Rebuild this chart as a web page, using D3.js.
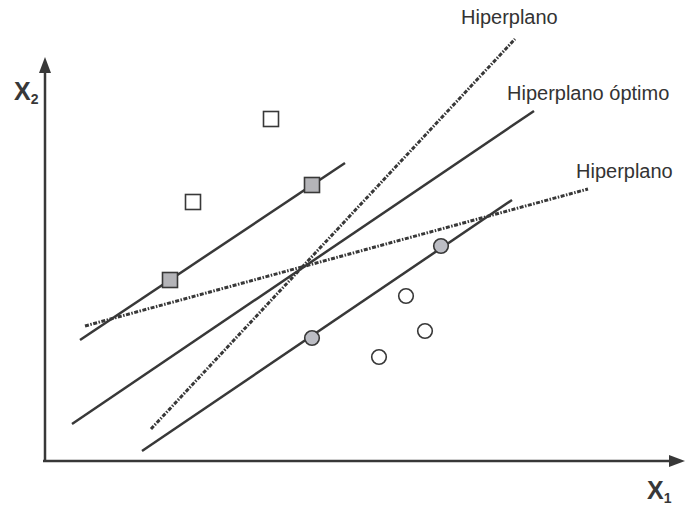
<!DOCTYPE html>
<html>
<head>
<meta charset="utf-8">
<script src="https://cdn.jsdelivr.net/npm/d3@7"></script>
<style>
  body { margin: 0; background: #fff; }
  svg { display: block; }
</style>
</head>
<body>
<svg></svg>
<script>
var width = 688
var height = 509

// hyperplanes: [x1, y1, x2, y2] in chart units
var lineNames = ["margen superior", "optimo", "margen inferior", "hiperplano 1", "hiperplano 2"]
var lineCoords = [
  [35, 121, 300, 298],
  [27, 37, 489, 350],
  [97, 10, 467, 261],
  [106, 32, 470, 422],
  [40, 135, 543, 272]
]
var lineDashed = [false, false, false, true, true]

// class A (squares)
var squaresX = [226, 148, 125, 267]
var squaresY = [342, 259, 181, 276]
var squaresSupport = [false, false, true, true]

// class B (circles)
var circlesX = [361, 380, 334, 267, 396]
var circlesY = [165, 130, 104, 123, 215]
var circlesSupport = [false, false, false, true, true]

var labelText = ["Hiperplano", "Hiperplano óptimo", "Hiperplano"]
var labelX = [416, 462, 531]
var labelY = [437, 361, 283]

var x = d3.scaleLinear().domain([0, 640]).range([45, 685])
var y = d3.scaleLinear().domain([0, 404]).range([461, 57])

var ink = "#383838"

var svg = d3.select("svg")
    .attr("width", width)
    .attr("height", height)

var defs = svg.append("defs")
defs.append("marker")
    .attr("id", "arrow")
    .attr("markerUnits", "userSpaceOnUse")
    .attr("markerWidth", 16)
    .attr("markerHeight", 14)
    .attr("viewBox", "0 -7 16 14")
    .attr("refX", 2)
    .attr("refY", 0)
    .attr("orient", "auto")
  .append("path")
    .attr("d", "M0,-6L16,0L0,6Z")
    .attr("fill", ink)

// axes (no ticks)
svg.append("line")
    .attr("x1", x(-2)).attr("y1", y(0))
    .attr("x2", x(626)).attr("y2", y(0))
    .attr("stroke", ink).attr("stroke-width", 2.5)
    .attr("marker-end", "url(#arrow)")
svg.append("line")
    .attr("x1", x(0)).attr("y1", y(-1))
    .attr("x2", x(0)).attr("y2", y(390))
    .attr("stroke", ink).attr("stroke-width", 2.5)
    .attr("marker-end", "url(#arrow)")

// axis titles
var t2 = svg.append("text")
    .attr("x", 14).attr("y", 100)
    .style("font-family", "Arial, 'Liberation Sans', sans-serif")
    .style("font-weight", "bold")
    .style("font-size", "25px")
    .attr("fill", ink)
t2.append("tspan").text("X")
t2.append("tspan").attr("dy", 4).style("font-size", "14px").text("2")

var t1 = svg.append("text")
    .attr("x", 647).attr("y", 499)
    .style("font-family", "Arial, 'Liberation Sans', sans-serif")
    .style("font-weight", "bold")
    .style("font-size", "25px")
    .attr("fill", ink)
t1.append("tspan").text("X")
t1.append("tspan").attr("dy", 4).style("font-size", "14px").text("1")

// lines
svg.append("g")
    .selectAll("line")
    .data(lineCoords)
    .enter().append("line")
    .attr("x1", d => x(d[0]))
    .attr("y1", d => y(d[1]))
    .attr("x2", d => x(d[2]))
    .attr("y2", d => y(d[3]))
    .attr("stroke", ink)
    .attr("stroke-width", (d, i) => lineDashed[i] ? 3 : 2.5)
    .attr("stroke-dasharray", (d, i) => lineDashed[i] ? "4,1.5,1.5,1.5" : null)

// squares
var sq = 15
svg.append("g")
    .selectAll("rect")
    .data(squaresX)
    .enter().append("rect")
    .attr("x", (d, i) => x(d) - sq / 2)
    .attr("y", (d, i) => y(squaresY[i]) - sq / 2)
    .attr("width", sq)
    .attr("height", sq)
    .attr("fill", (d, i) => squaresSupport[i] ? "#b4b4b8" : "#fff")
    .attr("stroke", ink)
    .attr("stroke-width", 1.6)

// circles
svg.append("g")
    .selectAll("circle")
    .data(circlesX)
    .enter().append("circle")
    .attr("cx", d => x(d))
    .attr("cy", (d, i) => y(circlesY[i]))
    .attr("r", 7.3)
    .attr("fill", (d, i) => circlesSupport[i] ? "#bcbdc4" : "#fff")
    .attr("stroke", ink)
    .attr("stroke-width", 1.6)

// labels
svg.append("g")
    .selectAll("text")
    .data(labelText)
    .enter().append("text")
    .attr("x", (d, i) => x(labelX[i]))
    .attr("y", (d, i) => y(labelY[i]))
    .text(d => d)
    .style("font-family", "Arial, 'Liberation Sans', sans-serif")
    .style("font-size", "20px")
    .attr("fill", "#333")
</script>
</body>
</html>
